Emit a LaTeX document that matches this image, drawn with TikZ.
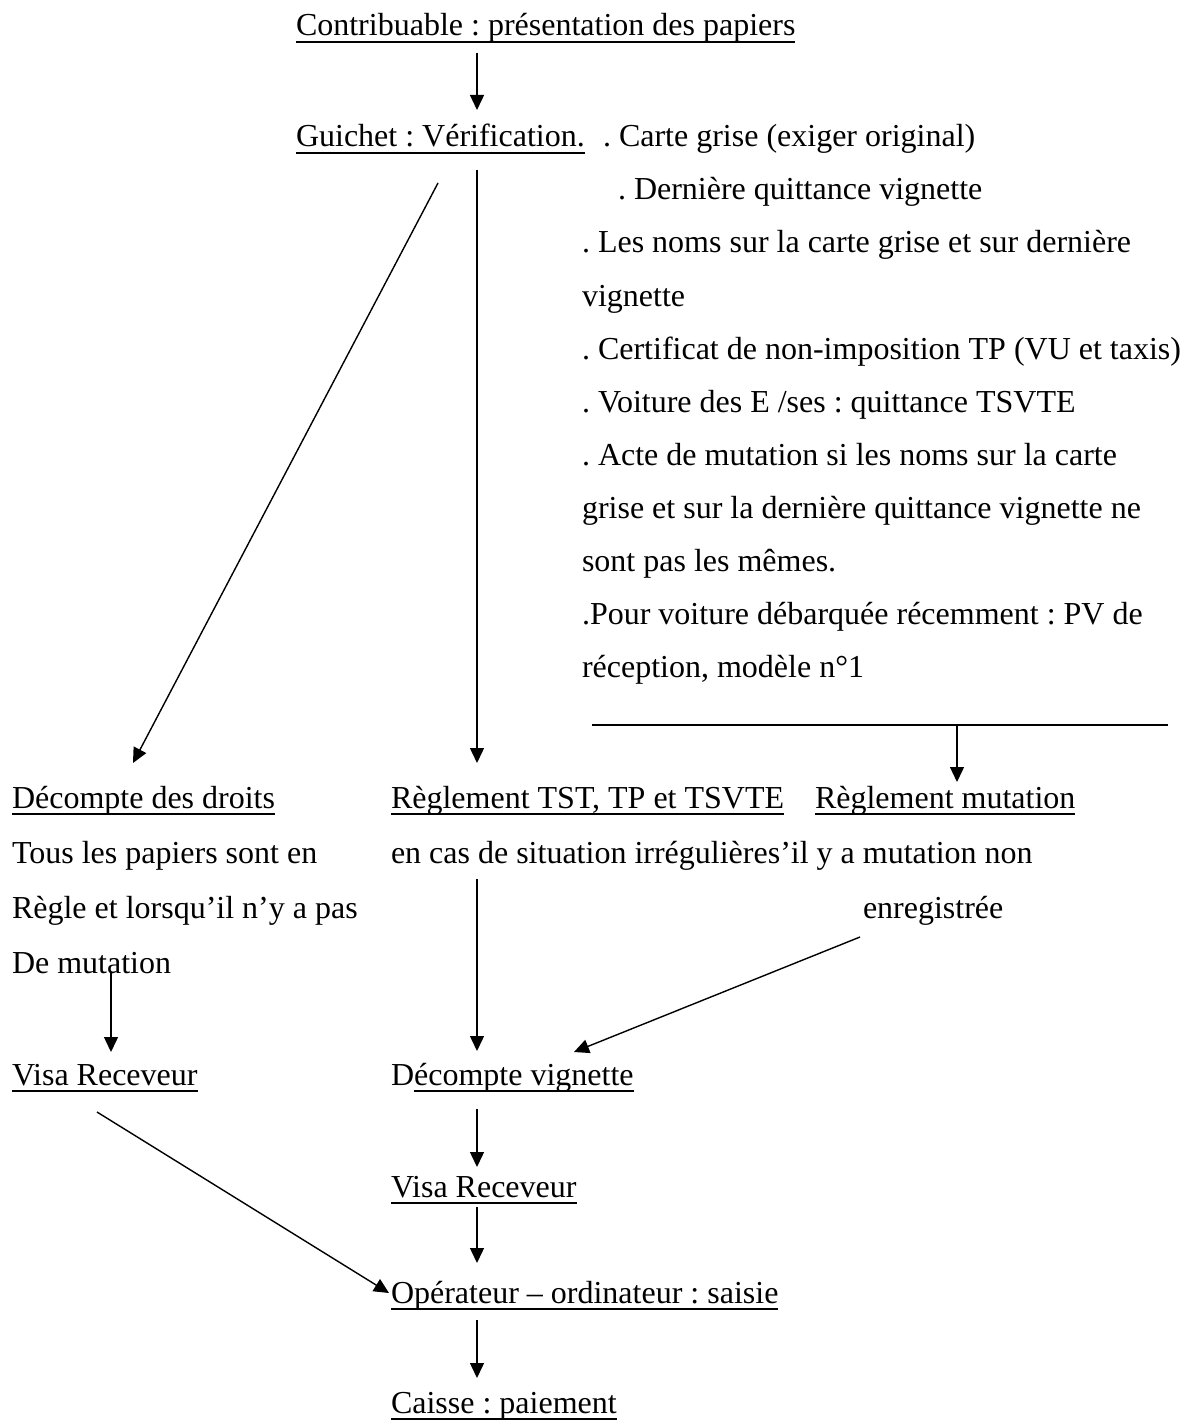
\documentclass[tikz,border=0pt]{standalone}
\usepackage{fontspec}
\setmainfont{Liberation Serif}
\usetikzlibrary{arrows.meta}
\frenchspacing
\newcommand\ulnode[1]{\draw[ulstyle] ([yshift=-2.85pt]#1.base west) -- ([yshift=-2.85pt]#1.base east);}
\begin{document}
\frenchspacing
\begin{tikzpicture}[x=0.5pt,y=-0.5pt,
  txt/.style={anchor=base west, inner sep=0pt, outer sep=0pt, font=\fontsize{16}{19}\selectfont\frenchspacing},
  flow/.style={line width=0.7pt, -{Triangle[length=7.5pt,width=7pt]}},
  plainline/.style={line width=0.7pt},
  ulstyle/.style={line width=1pt}]
\useasboundingbox (0,0) rectangle (1180,1423);
\fill[white] (0,0) rectangle (1180,1423);

% top
\node[txt] (contrib) at (296,36) {Contribuable : présentation des papiers};
\node[txt] (guichet) at (296,147) {Guichet : Vérification.};
\node[txt] (l1) at (603,147) {. Carte grise (exiger original)};
\node[txt] (l2) at (618,200) {. Dernière quittance vignette};
\node[txt] (l3) at (582,253) {. Les noms sur la carte grise et sur dernière};
\node[txt] (l4) at (582,306) {vignette};
\node[txt] (l5) at (582,359) {. Certificat de non-imposition TP (VU et taxis)};
\node[txt] (l6) at (582,412) {. Voiture des E /ses : quittance TSVTE};
\node[txt] (l7) at (582,465) {. Acte de mutation si les noms sur la carte};
\node[txt] (l8) at (582,518) {grise et sur la dernière quittance vignette ne};
\node[txt] (l9) at (582,571) {sont pas les mêmes.};
\node[txt] (l10) at (582,624) {.Pour voiture débarquée récemment : PV de};
\node[txt] (l11) at (582,677) {réception, modèle n°1};
\ulnode{contrib}
\ulnode{guichet}

% middle row
\node[txt] (droits) at (12,808) {Décompte des droits};
\node[txt] (d1) at (12,863) {Tous les papiers sont en};
\node[txt] (d2) at (12,918) {Règle et lorsqu’il n’y a pas};
\node[txt] (d3) at (12,973) {De mutation};
\node[txt] (regl) at (391,808) {Règlement TST, TP et TSVTE};
\node[txt] (r1) at (391,863) {en cas de situation irrégulières’il y a mutation non};
\node[txt] (reglmut) at (815,808) {Règlement mutation};
\node[txt] (r2) at (863,918) {enregistrée};
\ulnode{droits}
\ulnode{regl}
\ulnode{reglmut}

% bottom
\node[txt] (visa1) at (12,1085) {Visa Receveur};
\node[txt] (dvD) at (391,1085) {D};
\node[txt] (dv) at (dvD.base east) {écompte vignette};
\node[txt] (visa2) at (391,1197) {Visa Receveur};
\node[txt] (oper) at (391,1303) {Opérateur – ordinateur : saisie};
\node[txt] (caisse) at (391,1413) {Caisse : paiement};
\ulnode{visa1}
\ulnode{dv}
\ulnode{visa2}
\ulnode{oper}
\ulnode{caisse}

% connector end points
\coordinate (a1s) at (477,53);   \coordinate (a1e) at (477,110);
\coordinate (a2s) at (477,170);  \coordinate (a2e) at (477,763);
\coordinate (a3s) at (438,183);  \coordinate (a3e) at (133,763);
\coordinate (hl) at (592,725);   \coordinate (hr) at (1168,725);
\coordinate (a4s) at (957,725);  \coordinate (a4e) at (957,782);
\coordinate (a5s) at (477,879);  \coordinate (a5e) at (477,1051);
\coordinate (a6s) at (860,937);  \coordinate (a6e) at (574,1052);
\coordinate (a7s) at (111,973);  \coordinate (a7e) at (111,1052);
\coordinate (a8s) at (97,1112);  \coordinate (a8e) at (389,1293);
\coordinate (a9s) at (477,1109); \coordinate (a9e) at (477,1167);
\coordinate (a10s) at (477,1207); \coordinate (a10e) at (477,1263);
\coordinate (a11s) at (477,1320); \coordinate (a11e) at (477,1378);

\draw[flow] (a1s) -- (a1e);
\draw[flow] (a2s) -- (a2e);
\draw[flow] (a3s) -- (a3e);
\draw[plainline] (hl) -- (hr);
\draw[flow] (a4s) -- (a4e);
\draw[flow] (a5s) -- (a5e);
\draw[flow] (a6s) -- (a6e);
\draw[flow] (a7s) -- (a7e);
\draw[flow] (a8s) -- (a8e);
\draw[flow] (a9s) -- (a9e);
\draw[flow] (a10s) -- (a10e);
\draw[flow] (a11s) -- (a11e);
\end{tikzpicture}
\end{document}
